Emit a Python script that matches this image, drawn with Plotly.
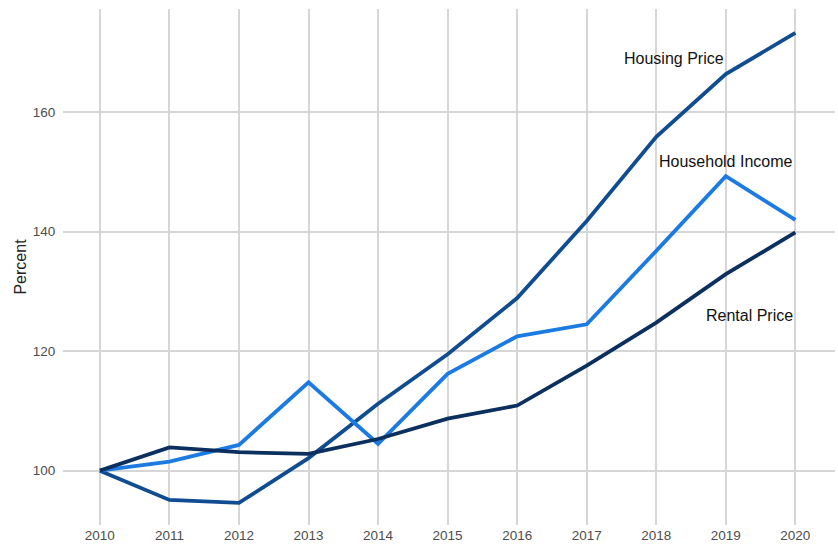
import plotly.graph_objects as go

years = [2010, 2011, 2012, 2013, 2014, 2015, 2016, 2017, 2018, 2019, 2020]
housing_price = [100, 95.1, 94.6, 102.1, 111.2, 119.5, 128.9, 141.8, 155.9, 166.4, 173.3]
household_income = [100, 101.5, 104.3, 114.8, 104.5, 116.2, 122.5, 124.5, 136.8, 149.3, 142.0]
rental_price = [100, 103.9, 103.1, 102.8, 105.3, 108.7, 110.9, 117.6, 124.8, 132.9, 139.9]

series_names = ["Housing Price", "Household Income", "Rental Price"]
colors = ["#104c90", "#1b7be2", "#0b2f5e"]

fig = go.Figure()
for name, vals, col in zip(series_names, [housing_price, household_income, rental_price], colors):
    fig.add_trace(go.Scatter(x=years, y=vals, mode="lines", name=name,
                             line=dict(color=col, width=3.8), showlegend=False))

# labels
fig.add_annotation(x=2019, y=169.0, text="Housing Price", xanchor="right", yanchor="middle",
                   showarrow=False, font=dict(size=16, color="#111111"))
fig.add_annotation(x=2019, y=151.8, text="Household Income", xanchor="center", yanchor="middle",
                   showarrow=False, font=dict(size=16, color="#111111"))
fig.add_annotation(x=2020, y=125.9, text="Rental Price", xanchor="right", yanchor="middle",
                   showarrow=False, font=dict(size=16, color="#111111"))

fig.update_layout(
    width=838, height=546,
    margin=dict(l=63, r=3, t=9, b=21, autoexpand=False),
    paper_bgcolor="white", plot_bgcolor="white",
    font=dict(family="Liberation Sans, Arial, sans-serif"),
)
fig.update_xaxes(
    range=[2009.47, 2020.57], tickvals=years, ticktext=[str(y) for y in years],
    showgrid=True, gridcolor="#d6d6d6", gridwidth=1.6, zeroline=False, showline=False,
    tickfont=dict(size=13.5, color="#4d4d4d"), ticks="", automargin=False,
)
fig.update_yaxes(
    range=[90.9, 177.3], tickvals=[100, 120, 140, 160],
    showgrid=True, gridcolor="#d6d6d6", gridwidth=1.6, zeroline=False, showline=False,
    tickfont=dict(size=13.5, color="#4d4d4d"), ticks="outside", ticklen=4, tickcolor="rgba(0,0,0,0)",
    automargin=False,
    title=dict(text="Percent", font=dict(size=16, color="#222222"), standoff=2),
)

fig.write_html("out.html", config={"displayModeBar": False},
               post_script="document.body.style.margin='0';document.body.style.overflow='hidden';")
